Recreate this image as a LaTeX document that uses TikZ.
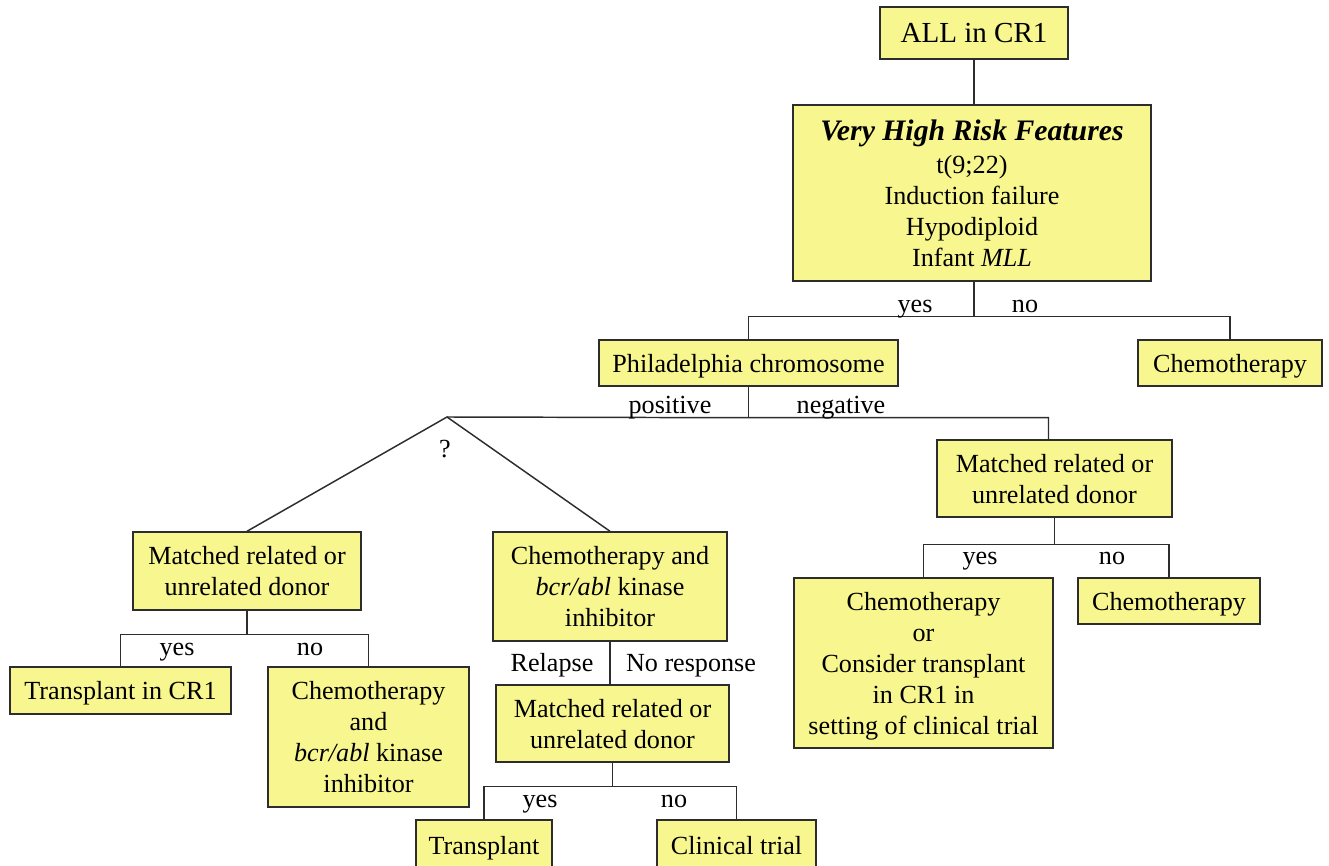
\documentclass[tikz,border=0pt]{standalone}
\usepackage{fontspec}
\setmainfont{Liberation Serif}
\usepackage{xcolor}
\usepackage{tikz}
\usetikzlibrary{positioning,calc}

\definecolor{boxfill}{RGB}{248,246,142}
\definecolor{linegray}{RGB}{45,45,45}

\begin{document}
\begin{tikzpicture}[x=0.75pt, y=-0.75pt,
  box/.style={draw=linegray, line width=1.1pt, fill=boxfill, rectangle, inner sep=0pt, text depth=0pt, align=center, font=\fontsize{19.6}{23.25}\selectfont},
  lbl/.style={font=\fontsize{19.6}{23.25}\selectfont, inner sep=0pt, anchor=base},
  link/.style={draw=linegray, line width=1.1pt}
]
\useasboundingbox (0,0) rectangle (1329,866);

\node[box, minimum width=141pt, minimum height=39pt, font=\fontsize{21.8}{26}\selectfont] (all) at (974,33) {ALL in CR1};

\node[box, minimum width=268.5pt, minimum height=132pt] (vhr) at (972,193)
  {{\fontsize{22.3}{26}\selectfont\bfseries\itshape Very High Risk Features}\\[1.5pt]
   t(9;22)\\ Induction failure\\ Hypodiploid\\ Infant \textit{MLL}};

\node[box, minimum width=224.25pt, minimum height=34.5pt] (ph) at (748.5,363) {Philadelphia chromosome};
\node[box, minimum width=138pt, minimum height=34.5pt] (chemoA) at (1230,363) {Chemotherapy};

\node[box, minimum width=171pt, minimum height=58.5pt] (mdL) at (247,571) {Matched related or\\ unrelated donor};
\node[box, minimum width=175.5pt, minimum height=81.75pt] (cbk) at (610,586.5) {Chemotherapy and\\ \textit{bcr/abl} kinase\\ inhibitor};
\node[box, minimum width=176.25pt, minimum height=57.75pt] (mdR) at (1054.5,478.5) {Matched related or\\ unrelated donor};

\node[box, minimum width=165.75pt, minimum height=35.25pt] (tx1) at (120.5,690.5) {Transplant in CR1};
\node[box, minimum width=150.75pt, minimum height=105pt] (cbk2) at (368.5,737) {Chemotherapy\\ and\\ \textit{bcr/abl} kinase\\ inhibitor};

\node[box, minimum width=174.75pt, minimum height=57.75pt] (mdM) at (612.5,723.5) {Matched related or\\ unrelated donor};
\node[box, minimum width=102pt, minimum height=37.5pt] (tx2) at (484,845) {Transplant};
\node[box, minimum width=119.25pt, minimum height=37.5pt] (trial) at (736.5,845) {Clinical trial};

\node[box, minimum width=194.25pt, minimum height=127.5pt] (chemoOr) at (923.5,663)
  {Chemotherapy\\ or\\ Consider transplant\\ in CR1 in\\ setting of clinical trial};
\node[box, minimum width=136.5pt, minimum height=34.5pt] (chemoB) at (1169,601) {Chemotherapy};

% branch points
\coordinate (j1) at ($(all.south |- vhr.south)+(0,35)$);
\coordinate (j2) at ($(ph.south)+(0,31)$);
\coordinate (q) at (447,417);
\coordinate (j3) at ($(mdL.south)+(0,24)$);
\coordinate (j4) at ($(mdM.south)+(0,24)$);
\coordinate (j5) at ($(mdR.south)+(0,27)$);

\draw[link] (all.south) -- (all.south |- vhr.north);
\draw[link] (all.south |- vhr.south) -- (j1);
\draw[link] (ph.north) |- (j1) -| (chemoA.north);

\draw[link] (ph.south) -- (j2);
\draw[link] (q) -- (j2) -| ([xshift=-4.5pt]mdR.north);
\draw[link] (mdL.north) -- (q) -- (cbk.north);

\draw[link] (mdL.south) -- (j3);
\draw[link] (tx1.north) |- (j3) -| (cbk2.north);

\draw[link] (cbk.south) -- (cbk.south |- mdM.north);
\draw[link] (mdM.south) -- (j4);
\draw[link] (tx2.north) |- (j4) -| (trial.north);

\draw[link] (mdR.south) -- (j5);
\draw[link] (chemoOr.north) |- (j5) -| (chemoB.north);

% labels
\node[lbl] (yesA) at (915,313) {yes};
\node[lbl] (noA) at (1025,313) {no};
\node[lbl] (pos) at (670,414) {positive};
\node[lbl] (neg) at (841,414) {negative};
\node[lbl] (qm) at (445,457) {?};
\node[lbl] (yesB) at (177,655) {yes};
\node[lbl] (noB) at (310,655) {no};
\node[lbl] (rel) at (552,671) {Relapse};
\node[lbl] (nores) at (691,671) {No response};
\node[lbl] (yesC) at (540,807) {yes};
\node[lbl] (noC) at (674,807) {no};
\node[lbl] (yesD) at (980,564) {yes};
\node[lbl] (noD) at (1112,564) {no};

\end{tikzpicture}
\end{document}
